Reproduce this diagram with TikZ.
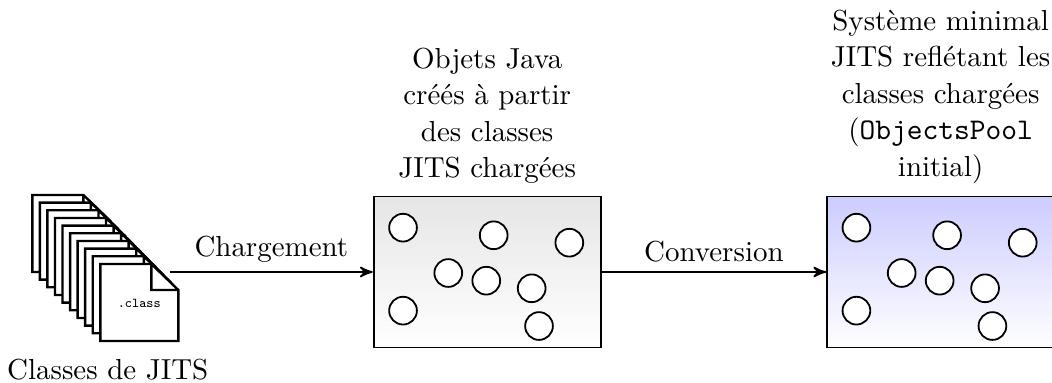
\documentclass[tikz,border=0pt]{standalone}
\usepackage{tikz}
\usetikzlibrary{positioning, arrows}

\tikzset{
  boite/.style={draw, semithick, rectangle, minimum width=2.66cm, minimum height=1.77cm, bottom color=white},
  objet/.style={draw, semithick, circle, fill=white, minimum size=0.325cm, inner sep=0pt},
  feuille/.style={draw, thick, fill=white},
  legende/.style={align=center, inner sep=2pt, font=\fontsize{9.65}{12.2}\selectfont}
}

\begin{document}
\begin{tikzpicture}
    \useasboundingbox (-5.707,-1.300) rectangle (6.616,3.186);

    \node[boite, top color=black!10] (objets) at (0,0) {};
    \node[boite, top color=blue!20] (systeme) [right = 2.63cm of objets] {};

    % les objets dans les deux boites
    \foreach \b in {objets, systeme}
      \foreach \x/\y in {-0.986/0.519, 0.076/0.430, 0.962/0.343, -0.456/-0.012,
                         -0.011/-0.102, 0.521/-0.191, -0.986/-0.453, 0.607/-0.633}
        \node[objet] at ([shift={(\x,\y)}]\b.center) {};

    % la pile de fichiers
    \foreach \i in {9,...,0}
      \draw[feuille, shift={(-4.532-0.0885*\i, -0.808+0.0898*\i)}]
        (0,0) -- (0.914,0) -- (0.914,0.597) -- (0.598,0.902) -- (0,0.902) -- cycle
        (0.598,0.902) -- (0.598,0.597) -- (0.914,0.597);
    \node[font=\ttfamily\fontsize{4.5}{5}\selectfont] (classe) at (-4.075,-0.365) {.class};
    \node[legende] (classes) [below = 0.41cm of classe, xshift=-0.37cm] {Classes de JITS};
    \coordinate (depart) at (-3.716,0);

    \node[legende] (texteobjets) [above = 0.06cm of objets]
      {Objets Java\\créés à partir\\des classes\\JITS chargées};
    \node[legende] (textesysteme) [above = 0.06cm of systeme]
      {Système minimal\\JITS reflétant les\\classes chargées\\({\fontsize{10}{12.2}\selectfont\texttt{ObjectsPool}}\\initial)};

    \draw[semithick, -stealth'] (depart) -- node[legende, above=1pt] {Chargement} (objets);
    \draw[semithick, -stealth'] (objets) -- node[legende, above=1pt] {Conversion} (systeme);
\end{tikzpicture}
\end{document}
